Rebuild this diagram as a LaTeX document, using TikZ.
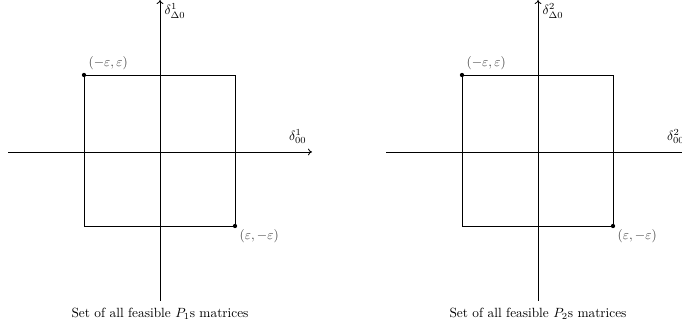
\documentclass[tikz,border=0pt]{standalone}
\usetikzlibrary{arrows.meta}
\begin{document}
\begin{tikzpicture}[x=0.75pt,y=-0.75pt,
  axis/.style={draw=black,line width=0.6pt,-{To[length=3pt,width=5pt]}},
  sq/.style={draw=black,line width=0.6pt},
  corner/.style={circle,fill=black,inner sep=0pt,minimum size=3.2pt},
  lbl/.style={inner sep=2.5pt,text=black!75},
  captext/.style={inner sep=2pt}]
\useasboundingbox (0,0) rectangle (682,327);
\foreach \dx/\k in {0/1,378/2}{
  \begin{scope}[xshift=\dx*0.75pt]
    \coordinate (hl\k) at (8,152);
    \coordinate (hr\k) at (312,152);
    \coordinate (vb\k) at (160,301);
    \coordinate (vt\k) at (160,0);
    \draw[axis] (hl\k) -- (hr\k);
    \draw[axis] (vb\k) -- (vt\k);
    \node[corner] (tl\k) at (84,75) {};
    \node[corner] (br\k) at (235,226) {};
    \coordinate (tr\k) at (235,75);
    \coordinate (bl\k) at (84,226);
    \draw[sq] (tl\k.center) -- (tr\k) -- (br\k.center) -- (bl\k) -- cycle;
    \node[lbl,anchor=south west] (ltl\k) at ([shift={(1,-2)}]tl\k.center) {$(-\varepsilon,\varepsilon)$};
    \node[lbl,anchor=north west] (lbr\k) at ([shift={(1,0)}]br\k.center) {$(\varepsilon,-\varepsilon)$};
    \node[inner sep=1pt,anchor=west] (lv\k) at (163,11) {$\delta^{\k}_{\Delta 0}$};
    \node[inner sep=1pt,anchor=south east] (lh\k) at (308,145) {$\delta^{\k}_{00}$};
    \node[captext,anchor=north] (c\k) at ([shift={(0,4)}]vb\k) {Set of all feasible $P_{\k}$s matrices};
  \end{scope}
}
\end{tikzpicture}
\end{document}
